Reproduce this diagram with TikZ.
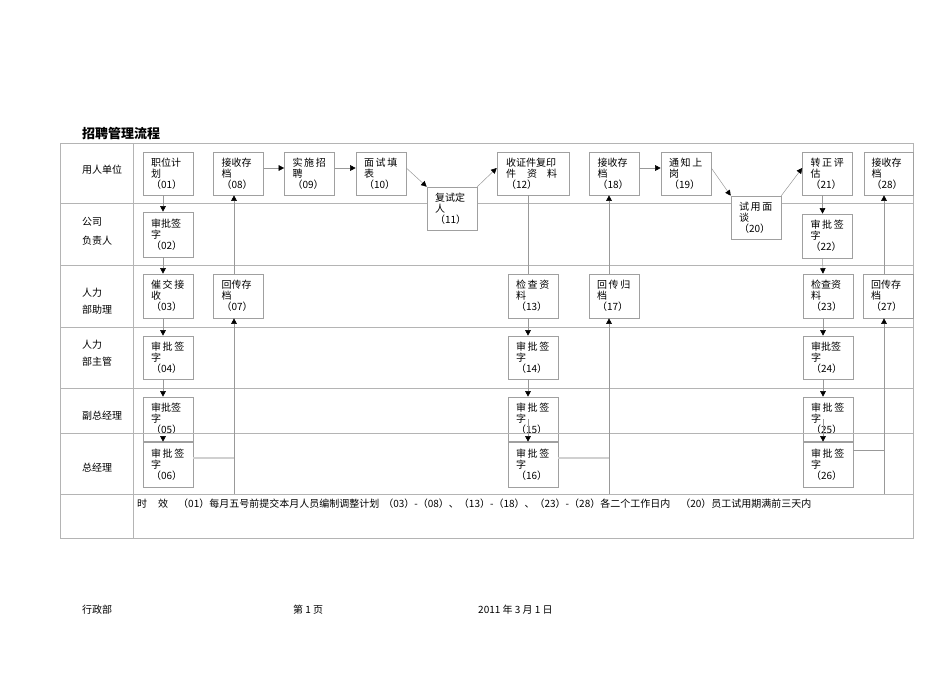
\documentclass[tikz,border=0pt]{standalone}
\usepackage{fontspec}
\setmainfont{Noto Sans CJK SC}
\usetikzlibrary{arrows.meta}
\definecolor{tline}{HTML}{B4B4B4}
\definecolor{bline}{HTML}{A0A0A0}
\definecolor{cline}{HTML}{999999}
\definecolor{wline}{HTML}{D0D0D0}
\tikzset{
  box/.style={draw=bline, fill=white, line width=0.6pt, inner sep=0pt,
    minimum width=50pt, minimum height=43pt, text width=34pt, align=left,
    font=\fontsize{10}{11}\selectfont},
  conn/.style={draw=cline, line width=0.5pt},
  thickconn/.style={draw=wline, line width=1.6pt},
  arr/.style={conn, -{Triangle[length=5.5pt,width=5.5pt,color=black]}},
  lab/.style={anchor=west, inner sep=0pt, font=\fontsize{10}{11}\selectfont},
  tbl/.style={draw=tline, line width=0.8pt},
}
\begin{document}
\begin{tikzpicture}[x=1pt,y=-1pt]
\useasboundingbox (0,0) rectangle (950,672);
% table
\draw[tbl] (60,143) rectangle (913,538);
\foreach \yy in {203,265,327,388,433,494} \draw[tbl] (60,\yy) -- (913,\yy);
\draw[tbl] (133,143) -- (133,538);
% title
\node[anchor=west, inner sep=0pt, font=\fontsize{13}{13}\selectfont\bfseries] (title) at (82,134) {招聘管理流程};
% lane labels
\node[lab] (l1) at (82,170) {用人单位};
\node[lab] (l2a) at (82,222) {公司};
\node[lab] (l2b) at (82,241) {负责人};
\node[lab] (l3a) at (82,293) {人力};
\node[lab] (l3b) at (82,310) {部助理};
\node[lab] (l4a) at (82,345) {人力};
\node[lab] (l4b) at (82,362) {部主管};
\node[lab] (l5) at (82,416) {副总经理};
\node[lab] (l6) at (82,468) {总经理};
% connector corner points
\coordinate (a1) at (234,458); \coordinate (a2) at (234,494);
\coordinate (b1) at (609,458); \coordinate (b2) at (609,494);
\coordinate (c1) at (884,450); \coordinate (c2) at (884,494);
% row 1
\node[box] (n01) at (168,173.5) {职位计\\划\\（01）};
\node[box] (n08) at (238.5,173.5) {接收存\\档\\（08）};
\node[box] (n09) at (309.5,173.5) {实\,施\,招\\聘\\（09）};
\node[box] (n10) at (381,173.5) {面\,试\,填\\表\\（10）};
\node[box] (n11) at (452,208.5) {复试定\\人\\（11）};
\node[box, minimum width=72pt, text width=54pt] (n12) at (533,173.5) {收证件复印\\件\hspace{1.1em}资\hspace{1em}料\\（12）};
\node[box] (n18) at (614.5,173.5) {接收存\\档\\（18）};
\node[box] (n19) at (686,173.5) {通\,知\,上\\岗\\（19）};
\node[box] (n20) at (756,217.5) {试\,用\,面\\谈\\（20）};
\node[box] (n21) at (827.5,173.5) {转\,正\,评\\估\\（21）};
\node[box, minimum width=49pt] (n28) at (888.5,173.5) {接收存\\档\\（28）};
% row 2
\node[box, minimum height=45pt] (n02) at (168,234.5) {审批签\\字\\（02）};
\node[box, minimum height=44pt] (n22) at (827.5,236) {审\,批\,签\\字\\（22）};
% row 3
\node[box, minimum height=44pt] (n03) at (168,296) {催\,交\,接\\收\\（03）};
\node[box, minimum height=44pt] (n07) at (238.5,296) {回传存\\档\\（07）};
\node[box, minimum height=44pt] (n13) at (533,296) {检\,查\,资\\料\\（13）};
\node[box, minimum height=44pt] (n17) at (614,296) {回\,传\,归\\档\\（17）};
\node[box, minimum height=44pt] (n23) at (828,296) {检查资\\料\\（23）};
\node[box, minimum height=44pt] (n27) at (888,296) {回传存\\档\\（27）};
% row 4
\node[box] (n04) at (168,357.5) {审\,批\,签\\字\\（04）};
\node[box] (n14) at (533,357.5) {审\,批\,签\\字\\（14）};
\node[box] (n24) at (828,357.5) {审批签\\字\\（24）};
% row 5
\node[box, minimum height=44pt] (n05) at (168,419) {审批签\\字\\（05）};
\node[box, minimum height=44pt] (n15) at (533,419) {审\,批\,签\\字\\（15）};
\node[box, minimum height=44pt] (n25) at (828,419) {审\,批\,签\\字\\（25）};
% row 6
\node[box, minimum height=45pt] (n06) at (168,464.5) {审\,批\,签\\字\\（06）};
\node[box, minimum height=45pt] (n16) at (533,464.5) {审\,批\,签\\字\\（16）};
\node[box, minimum height=45pt] (n26) at (828,464.5) {审\,批\,签\\字\\（26）};
% row line crossing row-5 boxes
\draw[tbl] (60,433) -- (913,433);
% horizontal arrows row 1
\draw[arr] ([yshift=5.5pt]n08.east) -- ([yshift=5.5pt]n09.west);
\draw[arr] ([yshift=5.5pt]n09.east) -- ([yshift=5.5pt]n10.west);
\draw[arr] ([yshift=5.5pt]n10.east) -- (n11.north west);
\draw[arr] (n11.north east) -- ([yshift=5.5pt]n12.west);
\draw[arr] ([yshift=5.5pt]n18.east) -- ([yshift=5.5pt]n19.west);
\draw[arr] ([yshift=5.5pt]n19.east) -- (n20.north west);
\draw[arr] (n20.north east) -- ([yshift=5.5pt]n21.west);
% left stack
\draw[arr] ([xshift=-5pt]n01.south) -- ([xshift=-5pt]n02.north);
\draw[arr] ([xshift=-5pt]n02.south) -- ([xshift=-5pt]n03.north);
\draw[arr] ([xshift=-5pt]n03.south) -- ([xshift=-5pt]n04.north);
\draw[arr] ([xshift=-5pt]n04.south) -- ([xshift=-5pt]n05.north);
\draw[arr] ([xshift=-5pt,yshift=5pt]n05.south) -- ([xshift=-5pt]n06.north);
\draw[thickconn] ([yshift=6.5pt]n06.east) -- (a1);
\draw[conn] (a1) -- (a2);
\draw[arr] (a1) -- (a2 |- n07.south);
\draw[arr] (a2 |- n07.north) -- (a2 |- n08.south);
% middle stack
\coordinate (m13) at ([xshift=-5pt]n13.north);
\draw[conn] (m13 |- n12.south) -- (m13);
\draw[arr] ([xshift=-5pt]n13.south) -- ([xshift=-5pt]n14.north);
\draw[arr] ([xshift=-5pt]n14.south) -- ([xshift=-5pt]n15.north);
\draw[arr] ([xshift=-5pt,yshift=22pt]n15.south) -- ([xshift=-5pt]n16.north);
\draw[thickconn] ([yshift=6.5pt]n16.east) -- (b1);
\draw[conn] (b1) -- (b2);
\draw[arr] (b1) -- (b2 |- n17.south);
\draw[arr] (b2 |- n17.north) -- (b2 |- n18.south);
% right stack
\draw[arr] ([xshift=-5pt]n21.south) -- ([xshift=-5pt]n22.north);
\draw[arr] ([xshift=-5pt]n22.south) -- ([xshift=-5pt]n23.north);
\draw[arr] ([xshift=-5pt]n23.south) -- ([xshift=-5pt]n24.north);
\draw[arr] ([xshift=-5pt]n24.south) -- ([xshift=-5pt]n25.north);
\draw[arr] ([xshift=-5pt,yshift=22pt]n25.south) -- ([xshift=-5pt]n26.north);
\draw[conn] ([yshift=14.5pt]n26.east) -- (c1);
\draw[conn] (c1) -- (c2);
\draw[arr] (c1) -- (c2 |- n27.south);
\draw[arr] (c2 |- n27.north) -- (c2 |- n28.south);
% note row
\node[lab] (note) at (137,504) {时\hspace{1.1em}效\hspace{1em}（01）每月五号前提交本月人员编制调整计划\hspace{0.4em}（03）-（08）、（13）-（18）、（23）-（28）各二个工作日内\hspace{1em}（20）员工试用期满前三天内};
% footer
\node[lab] (f1) at (82,610) {行政部};
\node[lab] (f2) at (293,610) {第 1 页};
\node[lab] (f3) at (478,610) {2011 年 3 月 1 日};
\end{tikzpicture}
\end{document}
